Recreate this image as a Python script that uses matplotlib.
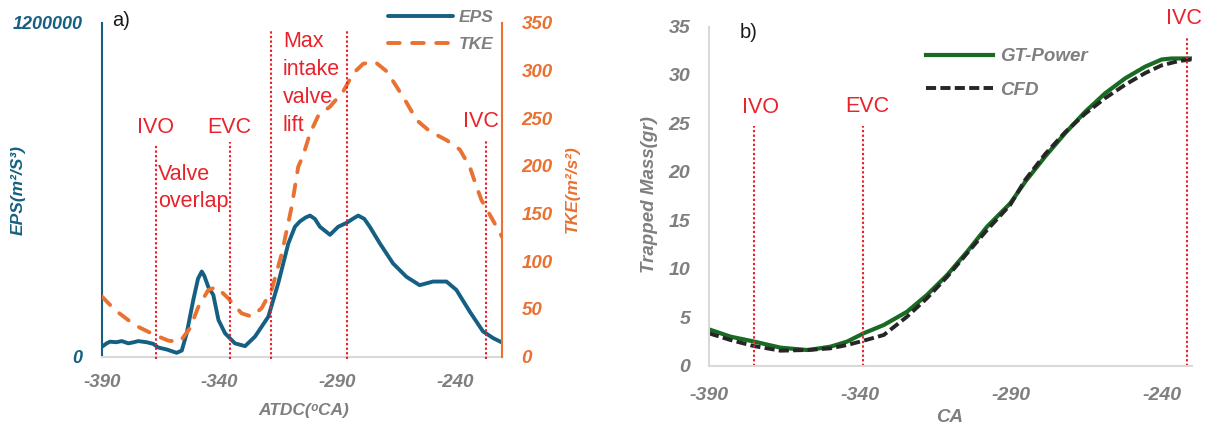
import matplotlib
matplotlib.use("Agg")
import matplotlib.pyplot as plt

# panel a) EPS and TKE against crank angle
eps_ca = [-390, -388, -386.6, -384, -381.6, -378.8, -376.5, -374.6, -371, -368.2,
          -366.1, -362.5, -358.3, -356.1, -354, -351.2, -349.2, -347.6, -346.5, -344.8,
          -342.7, -340.5, -337.7, -333.5, -329.2, -325, -319.3, -315.1, -310.8, -308,
          -305.9, -303.5, -301.6, -299.5, -297.4, -293.1, -289.6, -286, -283.5, -281.1,
          -278.5, -276.2, -271.9, -266.3, -260.6, -255, -249.3, -243.6, -239.4, -233.7,
          -228.1, -223.8, -220]
eps_val = [36000, 48000, 54000, 52000, 56000, 48000, 52000, 56000, 52000, 46000,
           33000, 26000, 14000, 22000, 84000, 204000, 280000, 306000, 290000, 250000,
           222000, 132000, 84000, 48000, 38000, 72000, 144000, 264000, 407000, 467000,
           486000, 500000, 507000, 495000, 467000, 438000, 467000, 481000, 495000, 507000,
           495000, 467000, 407000, 335000, 287000, 257000, 270000, 270000, 240000, 162000,
           91000, 67000, 51000]

tke_ca = [-390, -384.5, -376, -367.5, -361.8, -356.9, -352.6, -349.1, -344.8, -341.3,
          -336.3, -330.7, -326.4, -322.2, -317.9, -313.6, -309.4, -306.6, -304.5, -301.6,
          -298, -293.1, -287.5, -283.2, -279, -274, -269, -264.8, -260.5, -256.3,
          -250.6, -243.6, -237.9, -233.7, -230.8, -228.7, -225.9, -222.3, -219.6]
tke_val = [63, 49, 33, 22.7, 16.8, 15.7, 29.8, 52, 70, 73,
           61, 45.5, 42, 50.7, 70, 108, 157, 199, 211, 234,
           253, 262, 278, 297, 307, 309, 299, 283, 266, 248,
           236, 227, 217, 199, 178, 164, 152, 136, 124]

# valve events for panel a) (crank angle, top of marker in TKE units)
a_events_ca = [-367, -335.6, -318, -286, -227]
a_events_top = [223, 225, 343, 343, 228]

# panel b) trapped mass
gt_ca = [-390, -382.9, -375.2, -366.3, -357.5, -356.4, -349.8, -344.3, -338.8, -332.1,
         -324.4, -317.8, -311.1, -304.5, -297.9, -290.2, -285.2, -278.6, -272, -265.4,
         -258.8, -252.1, -245.5, -240, -236.7, -230]
gt_mass = [3.75, 3.0, 2.5, 1.86, 1.62, 1.65, 1.96, 2.48, 3.34, 4.2,
           5.57, 7.3, 9.36, 11.76, 14.34, 16.76, 19.0, 21.6, 24.0, 26.2,
           28.1, 29.66, 30.86, 31.6, 31.7, 31.7]

cfd_ca = [-390, -382.9, -375.2, -366.3, -357.5, -349.8, -344.3, -338.8, -332.1, -324.4,
          -317.8, -311.1, -304.5, -297.9, -290.2, -285.2, -278.6, -272, -265.4, -258.8,
          -252.1, -245.5, -240, -234.2, -230]
cfd_mass = [3.34, 2.65, 2.03, 1.55, 1.62, 1.79, 2.13, 2.58, 3.17, 5.06,
            6.96, 9.18, 11.6, 14.0, 16.6, 19.2, 21.85, 24.1, 26.0, 27.6,
            29.0, 30.2, 31.0, 31.45, 31.6]

b_events_ca = [-375, -339, -231.7]
b_events_top = [24.7, 24.7, 34]

x_ticks = [-390, -340, -290, -240]

BLUE = "#156082"
ORANGE = "#E97132"
GREEN = "#196B24"
GRAY = "#7f7f7f"
LIGHT = "#d9d9d9"
RED = "#e8232b"

plt.rcParams["font.family"] = ["Liberation Sans", "DejaVu Sans"]
plt.rcParams["axes.unicode_minus"] = False

W, H = 1205, 429
fig = plt.figure(figsize=(W / 100, H / 100), dpi=100)


def px(x, y):
    return x / W, 1 - y / H


def style_ticks(axis, color):
    for t in axis.get_ticklabels():
        t.set_fontweight("bold")
        t.set_fontstyle("italic")
        t.set_color(color)


# ---------- panel a)
ax = fig.add_axes([102 / W, 1 - 356.7 / H, 400 / W, 334 / H])
ax2 = ax.twinx()

l_eps, = ax.plot(eps_ca, eps_val, color=BLUE, lw=2.8, solid_capstyle="round",
                 solid_joinstyle="round")
l_tke, = ax2.plot(tke_ca, tke_val, color=ORANGE, lw=2.8, dashes=(3.0, 3.2),
                  dash_capstyle="round")

ax.set_xlim(-390, -220)
ax.set_ylim(0, 1200000)
ax2.set_ylim(0, 350)
ax.set_xticks(x_ticks)
ax.set_yticks([0, 1200000])
ax.set_yticklabels(["0", "1200000"])
ax2.set_yticks(range(0, 351, 50))

for s in ["top", "right"]:
    ax.spines[s].set_visible(False)
for s in ["top", "left", "bottom"]:
    ax2.spines[s].set_visible(False)
ax.spines["left"].set_color(BLUE)
ax.spines["left"].set_linewidth(1.5)
ax.spines["bottom"].set_color(LIGHT)
ax.spines["bottom"].set_linewidth(1.5)
ax2.spines["right"].set_color(ORANGE)
ax2.spines["right"].set_linewidth(1.5)

ax.tick_params(axis="x", length=0, pad=12.5, labelsize=13.5)
ax.tick_params(axis="y", length=0, pad=14, labelsize=13)
ax2.tick_params(axis="y", length=0, pad=14, labelsize=13.5)
style_ticks(ax.xaxis, GRAY)
style_ticks(ax.yaxis, BLUE)
style_ticks(ax2.yaxis, ORANGE)

for ca, top in zip(a_events_ca, a_events_top):
    ax2.plot([ca, ca], [-2.5, top], color=RED, lw=1.5, ls=(0, (1.1, 1.1)),
             clip_on=False)

red_txt = dict(color=RED, fontsize=15.5)
ax2.text(-367.1, 240, "IVO", ha="center", va="center", **red_txt)
ax2.text(-336.1, 240, "EVC", ha="center", va="center", **red_txt)
ax2.text(-366.2, 177, "Valve\noverlap", ha="left", va="center",
         linespacing=1.4, **red_txt)
ax2.text(-313.1, 286, "Max\nintake\nvalve\nlift", ha="left", va="center",
         linespacing=1.43, **red_txt)
ax2.text(-229, 246, "IVC", ha="center", va="center", **red_txt)

leg = ax2.legend([l_eps, l_tke], ["EPS", "TKE"], loc="upper left",
                 bbox_to_anchor=px(388, 10), bbox_transform=fig.transFigure,
                 frameon=False, borderpad=0, borderaxespad=0, handlelength=3.75,
                 handletextpad=0.35, labelspacing=0.68,
                 prop=dict(size=12.5, weight="bold", style="italic"))
for t in leg.get_texts():
    t.set_color(GRAY)

fig.text(*px(121, 20), "a)", ha="center", va="center", fontsize=14.5, color="#1a1a1a")
lab = dict(fontweight="bold", fontstyle="italic", ha="center", va="center")
fig.text(*px(18.5, 190), "EPS(m²/S³)", rotation=90, color=BLUE, fontsize=12.5, **lab)
fig.text(*px(572, 189), "TKE(m²/s²)", rotation=90, color=ORANGE, fontsize=12.5, **lab)
fig.text(*px(304, 411), "ATDC(ᵒCA)", color=GRAY, fontsize=12.5, **lab)

# ---------- panel b)
bx = fig.add_axes([709 / W, 1 - 365.7 / H, 483 / W, 339.2 / H])
l_gt, = bx.plot(gt_ca, gt_mass, color=GREEN, lw=3.0, solid_joinstyle="round")
l_cfd, = bx.plot(cfd_ca, cfd_mass, color="#262626", lw=2.8, dashes=(2.6, 1.1))

bx.set_xlim(-390, -230)
bx.set_ylim(0, 35)
bx.set_xticks(x_ticks)
bx.set_yticks(range(0, 36, 5))
for s in ["top", "right"]:
    bx.spines[s].set_visible(False)
for s in ["left", "bottom"]:
    bx.spines[s].set_color(LIGHT)
    bx.spines[s].set_linewidth(1.5)
bx.tick_params(axis="x", length=0, pad=15.5, labelsize=14)
bx.tick_params(axis="y", length=0, pad=13.5, labelsize=14)
style_ticks(bx.xaxis, GRAY)
style_ticks(bx.yaxis, GRAY)

for ca, top in zip(b_events_ca, b_events_top):
    bx.plot([ca, ca], [0, top], color=RED, lw=1.5, ls=(0, (1.1, 1.1)), clip_on=False)

bx.text(-373, 26.6, "IVO", ha="center", va="center", color=RED, fontsize=15.5)
bx.text(-337.5, 26.7, "EVC", ha="center", va="center", color=RED, fontsize=15.5)
bx.text(-232.6, 35.85, "IVC", ha="center", va="center", color=RED, fontsize=15.5,
        clip_on=False)

leg_b = bx.legend([l_gt, l_cfd], ["GT-Power", "CFD"], loc="upper left",
                  bbox_to_anchor=px(926, 48), bbox_transform=fig.transFigure,
                  frameon=False, borderpad=0, borderaxespad=0, handlelength=3.57,
                  handletextpad=0.37, labelspacing=0.88,
                  prop=dict(size=13.5, weight="bold", style="italic"))
for t in leg_b.get_texts():
    t.set_color(GRAY)

fig.text(*px(749, 32), "b)", ha="center", va="center", fontsize=14.5, color="#1a1a1a")
fig.text(*px(649, 195), "Trapped Mass(gr)", rotation=90, color=GRAY, fontsize=13.5, **lab)
fig.text(*px(950, 418), "CA", color=GRAY, fontsize=13.5, **lab)

fig.savefig("out.png", dpi=100)
